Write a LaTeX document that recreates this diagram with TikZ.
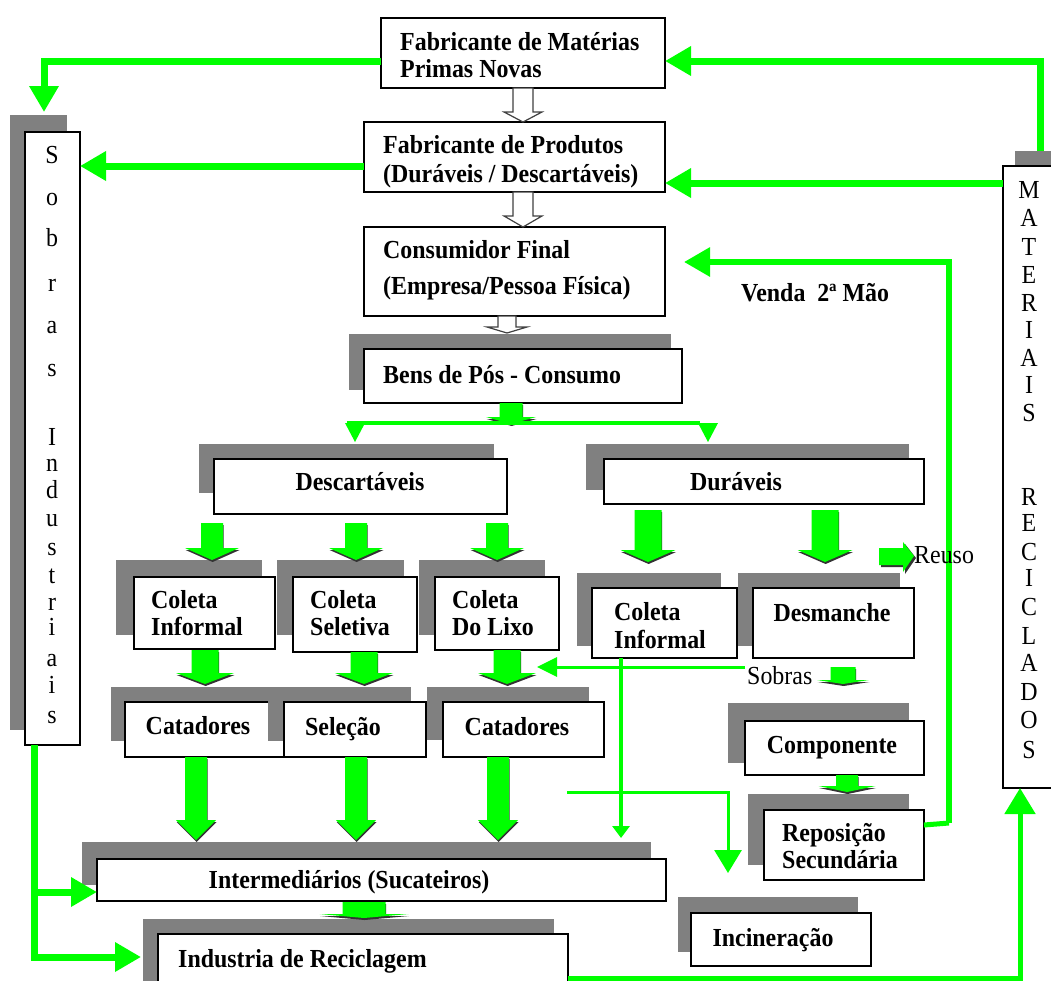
\documentclass[tikz,border=0pt]{standalone}
\usepackage{fontspec}
\setmainfont{Liberation Serif}[FakeStretch=0.92]
\usetikzlibrary{arrows.meta,fit,calc}
\definecolor{glime}{RGB}{0,255,0}
\definecolor{shadowgray}{RGB}{128,128,128}

\tikzset{
  wbox/.style={draw=black, line width=1.6pt, fill=white, inner sep=0pt},
  lbl/.style={font=\fontsize{26}{30}\selectfont\bfseries, inner sep=0pt},
  rlbl/.style={font=\fontsize{26}{30}\selectfont, inner sep=0pt},
  gline/.style={draw=glime, line width=#1, line join=miter},
  gline/.default=7pt,
  bighead/.style={-{Triangle[length=26pt,width=28pt]}},
}

% white box with a grey shadow behind it: name, box corners, shadow corners
\newcommand\shbox[9]{%
  \fill[shadowgray] (#6,#7) rectangle (#8,#9);
  \path (#2,#3) coordinate (#1-nw) (#4,#5) coordinate (#1-se);
  \node[wbox, fit=(#1-nw)(#1-se)] (#1) {};
}
\newcommand\plbox[5]{%
  \path (#2,#3) coordinate (#1-nw) (#4,#5) coordinate (#1-se);
  \node[wbox, fit=(#1-nw)(#1-se)] (#1) {};
}
% downward block arrow: centre x, top y, shaft width, head width, head start y, tip y
\newcommand\arrowcalc[4]{%
  \pgfmathsetmacro\aa{#1-#3/2}\pgfmathsetmacro\ab{#1+#3/2}%
  \pgfmathsetmacro\ac{#1-#4/2}\pgfmathsetmacro\ad{#1+#4/2}}
\newcommand\arrowpath[3]{%
  (\aa,#1) -- (\ab,#1) -- (\ab,#2) -- (\ad,#2) -- (\ae,#3) -- (\ac,#2) -- (\aa,#2) -- cycle}
\newcommand\garrow[6]{%
  \arrowcalc{#1}{#2}{#3}{#4}\def\ae{#1}%
  \fill[black!80, shift={(0.6,2)}] \arrowpath{#2}{#5}{#6};
  \fill[glime] \arrowpath{#2}{#5}{#6};
}
\newcommand\harrow[6]{%
  \arrowcalc{#1}{#2}{#3}{#4}\def\ae{#1}%
  \filldraw[fill=white, draw=black!75, line width=1.2pt] \arrowpath{#2}{#5}{#6};
}

\begin{document}
\begin{tikzpicture}[x=1pt, y=-1pt]
\useasboundingbox (0,0) rectangle (1051,980);

% ---- side columns ----
\shbox{sob}{25}{132}{80}{745}{10}{115}{67}{730}
\shbox{mat2}{1003}{166}{1070}{788}{1015}{151}{1070}{700}

% ---- main chain ----
\plbox{mat}{381}{18}{665}{88}
\plbox{prod}{364}{122}{665}{192}
\plbox{cons}{364}{227}{665}{316}
\shbox{bens}{364}{349}{682}{403}{349}{334}{671}{390}

\shbox{desc}{214}{459}{507}{514}{199}{444}{494}{493}
\shbox{dur}{604}{459}{924}{504}{586}{444}{909}{490}

\shbox{ci1}{134}{577}{275}{649}{116}{560}{262}{635}
\shbox{cs}{293}{577}{417}{652}{277}{560}{404}{635}
\shbox{cl}{435}{577}{559}{650}{419}{560}{545}{635}
\shbox{ci2}{592}{588}{737}{658}{577}{573}{721}{646}
\shbox{desm}{753}{588}{914}{658}{738}{573}{900}{646}

\shbox{cat1}{125}{702}{284}{757}{111}{687}{270}{741}
\shbox{sel}{284}{702}{426}{757}{268}{687}{411}{741}
\shbox{cat2}{443}{702}{604}{757}{427}{687}{589}{740}

\shbox{inter}{97}{859}{666}{901}{82}{842}{651}{885}
\shbox{ind}{158}{934}{568}{1000}{143}{919}{554}{1000}

\shbox{comp}{745}{721}{924}{775}{728}{703}{909}{763}
\shbox{repo}{764}{810}{924}{880}{748}{794}{909}{865}
\shbox{inc}{691}{913}{871}{966}{678}{897}{858}{952}

% ---- hollow arrows ----
\harrow{523}{88}{20}{38}{112}{122}
\harrow{523}{192}{20}{38}{216}{227}
\harrow{507}{316}{18}{40}{327}{333}

% ---- green block arrows ----
\garrow{511}{403}{23}{50}{417}{424}
\garrow{212}{523}{22}{54}{548}{560}
\garrow{356}{523}{22}{54}{548}{560}
\garrow{497}{523}{22}{54}{548}{560}
\garrow{648}{510}{27}{55}{550}{562}
\garrow{825}{510}{27}{55}{550}{562}
\garrow{205}{650}{27}{58}{673}{684}
\garrow{364}{652}{27}{58}{673}{684}
\garrow{507}{650}{27}{58}{673}{684}
\garrow{196}{757}{22}{40}{820}{840}
\garrow{356}{757}{22}{40}{820}{840}
\garrow{498}{757}{22}{40}{820}{840}
\garrow{364}{902}{43}{89}{914}{918}
\garrow{847}{775}{22}{57}{786}{792}
\garrow{843}{667}{25}{52}{680}{684}
% arrow towards "Reuso"
\fill[black!80] (881,550) -- (905,550) -- (905,544) -- (916,558) -- (905,574) -- (905,567) -- (881,567) -- cycle;
\fill[glime] (879,548) -- (903,548) -- (903,542) -- (914,556) -- (903,572) -- (903,565) -- (879,565) -- cycle;

% ---- split of post-consumption goods ----
\draw[gline=4pt] (347,423) -- (700,423);
\fill[glime] (345,423) -- (365,423) -- (355,442) -- cycle;
\fill[glime] (698,423) -- (718,423) -- (708,442) -- cycle;

% ---- named end points of the green connectors ----
\coordinate (m-l) at (381,61);
\coordinate (sob-in) at (44,112);
\coordinate (p-l) at (364,166);
\coordinate (sob-r) at (80,166);
\coordinate (mr-top) at (1040,151);
\coordinate (m-r) at (665,61);
\coordinate (mr-l) at (1003,183);
\coordinate (p-r) at (665,183);
\coordinate (r-r) at (924,825);
\coordinate (c-r) at (684,262);
\coordinate (i-r) at (568,978);
\coordinate (mr-bot) at (1020,788);
\coordinate (sob-b) at (34,745);
\coordinate (int-l) at (97,892);
\coordinate (ind-l) at (141,957);
\coordinate (sobras-l) at (745,667);
\coordinate (cl-r) at (537,667);
\coordinate (ci2-b) at (621,658);
\coordinate (int-t) at (621,838);
\coordinate (mid-s) at (567,792);
\coordinate (inc-t) at (728,873);

% ---- green connectors ----
\draw[gline, bighead] (m-l) -| (sob-in);
\draw[gline, bighead] (p-l) -- (sob-r);
\draw[gline=7pt, bighead] (mr-top) |- (m-r);
\draw[gline, bighead] (mr-l) -- (p-r);
\draw[gline=5pt] (r-r) -- (949,823);
\draw[gline=6pt, bighead] (949,823) |- (c-r);
\draw[gline=5pt, -{Triangle[length=26pt,width=30pt]}] (i-r) -| (mr-bot);
\draw[gline, bighead] (sob-b) |- (ind-l);
\draw[gline, bighead] (34,892) -- (int-l);
\draw[gline=3pt, -{Triangle[length=20pt,width=19pt]}] (sobras-l) -- (cl-r);
\draw[gline=4pt, -{Triangle[length=12pt,width=17pt]}] (ci2-b) -- (int-t);
\draw[gline=3pt, -{Triangle[length=23pt,width=27pt]}] (mid-s) -| (inc-t);

% ---- box texts ----
\node[lbl, anchor=base west] (tmat1) at (400,50) {Fabricante de Matérias};
\node[lbl, anchor=base west] (tmat2) at (400,77) {Primas Novas};
\node[lbl, anchor=base west] (tprod1) at (383,153) {Fabricante de Produtos};
\node[lbl, anchor=base west] (tprod2) at (383,182) {(Duráveis / Descartáveis)};
\node[lbl, anchor=base west] (tcons1) at (383,258) {Consumidor Final};
\node[lbl, anchor=base west] (tcons2) at (383,294) {(Empresa/Pessoa Física)};
\node[lbl, anchor=base west] (tbens) at (383,383) {Bens de Pós - Consumo};
\node[lbl, anchor=base] (tdesc) at (360,490) {Descartáveis};
\node[lbl, anchor=base] (tdur) at (736,490) {Duráveis};
\node[lbl, anchor=base west] (tci1a) at (151,608) {Coleta};
\node[lbl, anchor=base west] (tci1b) at (151,635) {Informal};
\node[lbl, anchor=base west] (tcsa) at (310,608) {Coleta};
\node[lbl, anchor=base west] (tcsb) at (310,635) {Seletiva};
\node[lbl, anchor=base west] (tcla) at (452,608) {Coleta};
\node[lbl, anchor=base west] (tclb) at (452,635) {Do Lixo};
\node[lbl, anchor=base west] (tci2a) at (614,620) {Coleta};
\node[lbl, anchor=base west] (tci2b) at (614,648) {Informal};
\node[lbl, anchor=base] (tdesm) at (832,621) {Desmanche};
\node[lbl, anchor=base] (tcat1) at (198,734) {Catadores};
\node[lbl, anchor=base] (tsel) at (343,735) {Seleção};
\node[lbl, anchor=base] (tcat2) at (517,735) {Catadores};
\node[lbl, anchor=base] (tinter) at (349,888) {Intermediários (Sucateiros)};
\node[lbl, anchor=base west] (tind) at (178,967) {Industria de Reciclagem};
\node[lbl, anchor=base] (tcomp) at (832,753) {Componente};
\node[lbl, anchor=base west] (trepo1) at (782,841) {Reposição};
\node[lbl, anchor=base west] (trepo2) at (782,868) {Secundária};
\node[lbl, anchor=base] (tinc) at (773,946) {Incineração};
\node[lbl, anchor=base west] (tvenda) at (741,301) {Venda\ \ 2ª Mão};
\node[rlbl, anchor=base west] (treuso) at (914,563) {Reuso};
\node[rlbl, anchor=base west] (tsobras) at (747,684) {Sobras};

% ---- vertical column lettering ----
\foreach \c/\y in {S/155,o/197,b/238,r/283,a/325,s/368,I/437,n/463,d/490,u/518,s/547,t/575,r/602,i/627,a/658,i/685,s/715}
  \node[rlbl, anchor=base] (sl\y) at (52,\y+8) {\c};
\foreach \c/\y in {M/190,A/218,T/247,E/275,R/303,I/330,A/358,I/385,S/413,R/497,E/523,C/552,I/578,C/607,L/636,A/663,D/692,O/720,S/750}
  \node[rlbl, anchor=base] (ml\y) at (1029,\y+8) {\c};
\end{tikzpicture}
\end{document}
